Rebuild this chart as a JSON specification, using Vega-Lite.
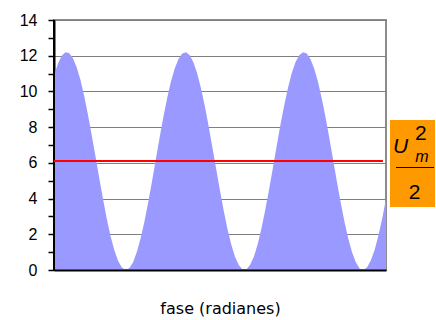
{
  "$schema": "https://vega.github.io/schema/vega-lite/v6.json",
  "width": 332,
  "height": 250,
  "autosize": {"type": "none"},
  "padding": {"left": 54, "top": 20, "right": 50, "bottom": 50},
  "background": "white",
  "config": {
    "view": {"stroke": "#8c8c8c", "strokeWidth": 2},
    "font": "Liberation Sans"
  },
  "datasets": {
    "curva": [
      {"fase": 0.0, "potencia": 10.88}, {"fase": 0.1, "potencia": 11.54}, {"fase": 0.2, "potencia": 11.98},
      {"fase": 0.3, "potencia": 12.19}, {"fase": 0.4, "potencia": 12.15}, {"fase": 0.5, "potencia": 11.87},
      {"fase": 0.6, "potencia": 11.36}, {"fase": 0.7, "potencia": 10.65}, {"fase": 0.8, "potencia": 9.75},
      {"fase": 0.9, "potencia": 8.70}, {"fase": 1.0, "potencia": 7.55}, {"fase": 1.1, "potencia": 6.35},
      {"fase": 1.2, "potencia": 5.14}, {"fase": 1.3, "potencia": 3.96}, {"fase": 1.4, "potencia": 2.86},
      {"fase": 1.5, "potencia": 1.89}, {"fase": 1.6, "potencia": 1.10}, {"fase": 1.7, "potencia": 0.51},
      {"fase": 1.8, "potencia": 0.14}, {"fase": 1.9, "potencia": 0.00}, {"fase": 2.0, "potencia": 0.11},
      {"fase": 2.1, "potencia": 0.45}, {"fase": 2.2, "potencia": 1.03}, {"fase": 2.3, "potencia": 1.80},
      {"fase": 2.4, "potencia": 2.74}, {"fase": 2.5, "potencia": 3.82}, {"fase": 2.6, "potencia": 4.99},
      {"fase": 2.7, "potencia": 6.21}, {"fase": 2.8, "potencia": 7.42}, {"fase": 2.9, "potencia": 8.58},
      {"fase": 3.0, "potencia": 9.63}, {"fase": 3.1, "potencia": 10.55}, {"fase": 3.2, "potencia": 11.29},
      {"fase": 3.3, "potencia": 11.82}, {"fase": 3.4, "potencia": 12.13}, {"fase": 3.5, "potencia": 12.19},
      {"fase": 3.6, "potencia": 12.02}, {"fase": 3.7, "potencia": 11.60}, {"fase": 3.8, "potencia": 10.97},
      {"fase": 3.9, "potencia": 10.14}, {"fase": 4.0, "potencia": 9.15}, {"fase": 4.1, "potencia": 8.04},
      {"fase": 4.2, "potencia": 6.85}, {"fase": 4.3, "potencia": 5.64}, {"fase": 4.4, "potencia": 4.44},
      {"fase": 4.5, "potencia": 3.31}, {"fase": 4.6, "potencia": 2.28}, {"fase": 4.7, "potencia": 1.42},
      {"fase": 4.8, "potencia": 0.73}, {"fase": 4.9, "potencia": 0.26}, {"fase": 5.0, "potencia": 0.03},
      {"fase": 5.1, "potencia": 0.03}, {"fase": 5.2, "potencia": 0.29}, {"fase": 5.3, "potencia": 0.76},
      {"fase": 5.4, "potencia": 1.46}, {"fase": 5.5, "potencia": 2.34}, {"fase": 5.6, "potencia": 3.37},
      {"fase": 5.7, "potencia": 4.50}, {"fase": 5.8, "potencia": 5.70}, {"fase": 5.9, "potencia": 6.91},
      {"fase": 6.0, "potencia": 8.10}, {"fase": 6.1, "potencia": 9.20}, {"fase": 6.2, "potencia": 10.18},
      {"fase": 6.3, "potencia": 11.02}, {"fase": 6.4, "potencia": 11.63}, {"fase": 6.5, "potencia": 12.03},
      {"fase": 6.6, "potencia": 12.20}, {"fase": 6.7, "potencia": 12.12}, {"fase": 6.8, "potencia": 11.80},
      {"fase": 6.9, "potencia": 11.26}, {"fase": 7.0, "potencia": 10.51}, {"fase": 7.1, "potencia": 9.58},
      {"fase": 7.2, "potencia": 8.52}, {"fase": 7.3, "potencia": 7.36}, {"fase": 7.4, "potencia": 6.14},
      {"fase": 7.5, "potencia": 4.93}, {"fase": 7.6, "potencia": 3.76}, {"fase": 7.7, "potencia": 2.69},
      {"fase": 7.8, "potencia": 1.75}, {"fase": 7.9, "potencia": 0.99}, {"fase": 8.0, "potencia": 0.43},
      {"fase": 8.1, "potencia": 0.09}, {"fase": 8.2, "potencia": 0.00}, {"fase": 8.3, "potencia": 0.15},
      {"fase": 8.4, "potencia": 0.54}, {"fase": 8.5, "potencia": 1.14}, {"fase": 8.6, "potencia": 1.94},
      {"fase": 8.7, "potencia": 2.88}, {"fase": 8.8, "potencia": 4.01}
    ],
    "eje": [{"fase": 0, "potencia": 0, "potencia2": 14}],
    "media": [{"fase": 0, "fase2": 8.72, "potencia": 6.1}],
    "recuadro": [{"fase": 8.906, "fase2": 10.1, "potencia": 3.53, "potencia2": 8.4}],
    "barra": [{"fase": 9.065, "fase2": 10.07, "potencia": 5.74}],
    "letraU": [{"fase": 9.184, "potencia": 6.55, "texto": "U"}],
    "letraM": [{"fase": 9.754, "potencia": 6.05, "texto": "m"}],
    "cifras": [
      {"fase": 9.723, "potencia": 7.3, "texto": "2"},
      {"fase": 9.555, "potencia": 3.96, "texto": "2"}
    ]
  },
  "encoding": {
    "x": {
      "field": "fase",
      "type": "quantitative",
      "scale": {"domain": [0, 8.8], "nice": false, "zero": false},
      "axis": {
        "title": "fase (radianes)",
        "titleFont": "DejaVu Sans",
        "titleFontSize": 16,
        "titleFontWeight": "normal",
        "titleColor": "black",
        "titlePadding": 30,
        "labels": false,
        "ticks": false,
        "grid": false,
        "domainColor": "black",
        "domainWidth": 2,
        "zindex": 1
      }
    },
    "y": {
      "field": "potencia",
      "type": "quantitative",
      "scale": {"domain": [0, 14], "nice": false},
      "axis": {
        "title": null,
        "values": [0, 1, 2, 3, 4, 5, 6, 7, 8, 9, 10, 11, 12, 13, 14],
        "labelExpr": "datum.value % 2 === 0 ? datum.label : ''",
        "labelFont": "Liberation Sans",
        "labelFontSize": 16,
        "labelColor": "black",
        "labelPadding": 11,
        "tickSize": 6,
        "tickColor": "black",
        "tickWidth": 1.5,
        "domainColor": "black",
        "domainWidth": 2,
        "grid": true,
        "gridColor": "#7f7f7f",
        "gridWidth": 1,
        "gridOpacity": {"condition": {"test": "datum.value % 2 === 1", "value": 0}, "value": 1},
        "zindex": 0
      }
    }
  },
  "layer": [
    {
      "data": {"name": "curva"},
      "mark": {"type": "area", "color": "#9999ff", "opacity": 1, "interpolate": "linear"}
    },
    {
      "data": {"name": "eje"},
      "mark": {"type": "rule", "color": "black", "strokeWidth": 2},
      "encoding": {"y2": {"field": "potencia2"}}
    },
    {
      "data": {"name": "media"},
      "mark": {"type": "rule", "color": "#ff0000", "strokeWidth": 2},
      "encoding": {"x2": {"field": "fase2"}}
    },
    {
      "data": {"name": "recuadro"},
      "mark": {"type": "rect", "color": "#ff9900", "opacity": 1},
      "encoding": {"x2": {"field": "fase2"}, "y2": {"field": "potencia2"}}
    },
    {
      "data": {"name": "barra"},
      "mark": {"type": "rule", "color": "black", "strokeWidth": 1},
      "encoding": {"x2": {"field": "fase2"}}
    },
    {
      "data": {"name": "letraU"},
      "mark": {"type": "text", "font": "Liberation Sans", "fontSize": 21, "fontStyle": "italic", "align": "center", "baseline": "alphabetic", "color": "black"},
      "encoding": {"text": {"field": "texto"}}
    },
    {
      "data": {"name": "letraM"},
      "mark": {"type": "text", "font": "Liberation Sans", "fontSize": 16, "fontStyle": "italic", "align": "center", "baseline": "alphabetic", "color": "black"},
      "encoding": {"text": {"field": "texto"}}
    },
    {
      "data": {"name": "cifras"},
      "mark": {"type": "text", "font": "Liberation Sans", "fontSize": 21, "align": "center", "baseline": "alphabetic", "color": "black"},
      "encoding": {"text": {"field": "texto"}}
    }
  ]
}
